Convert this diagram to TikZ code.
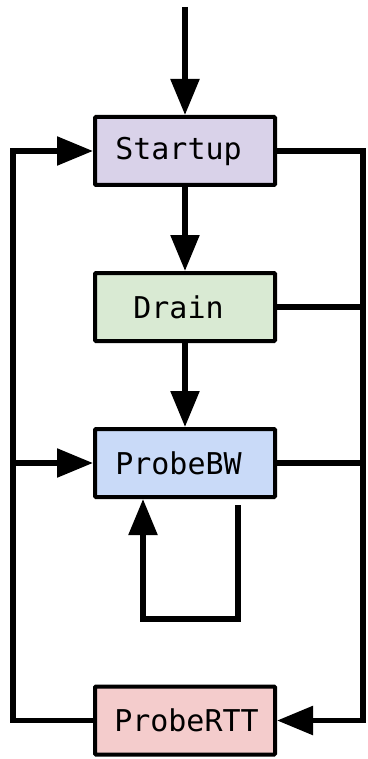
\documentclass[tikz,border=0pt]{standalone}
\usepackage{fontspec}
\setmonofont{DejaVu Sans Mono}
\usetikzlibrary{arrows.meta,calc}
\definecolor{Lavender}{HTML}{D9D2E9}
\definecolor{Mint}{HTML}{D9EAD3}
\definecolor{Sky}{HTML}{C9DAF8}
\definecolor{Blush}{HTML}{F4CCCC}
\tikzset{
  state/.style={draw=black,line width=4pt,rounded corners=1pt,minimum width=180pt,minimum height=68pt,inner sep=0pt,font=\ttfamily\fontsize{30}{36}\selectfont},
  flow/.style={-{Triangle[length=36pt,width=28pt]},line width=5.5pt},
  wire/.style={line width=5.5pt},
}
% nudge a label sideways inside its box
\newcommand{\lpad}[1]{#1\hspace*{13pt}}
\begin{document}
\begin{tikzpicture}[x=1pt,y=-1pt]
  \useasboundingbox (0,0) rectangle (367,759);
  \node[state,fill=Lavender] (startup) at (185,151) {\lpad{Startup}};
  \node[state,fill=Mint] (drain) at (185,307) {\lpad{Drain}};
  \node[state,fill=Sky] (probebw) at (185,463) {\lpad{ProbeBW}};
  \node[state,fill=Blush] (probertt) at (185,720.5) {\hspace*{3pt}ProbeRTT};

  \coordinate (entry) at (185,7);
  \coordinate (rrail) at (363,720.5);
  \coordinate (lrail) at (13,720.5);

  % main path down
  \draw[flow] (entry) -- (startup);
  \draw[flow] (startup) -- (drain);
  \draw[flow] (drain) -- (probebw);

  % right rail into ProbeRTT
  \draw[flow] (startup) -| (rrail) -- (probertt);
  \draw[wire] (drain) -- (drain -| rrail);
  \draw[wire] (probebw) -- (probebw -| rrail);

  % left rail back up
  \draw[flow] (probertt) -- (lrail) |- (startup);
  \draw[flow] (probebw -| lrail) -- (probebw);

  % ProbeBW self loop
  \draw[flow] ([xshift=53pt,yshift=-6pt]probebw.south) -- ++(0,114) -| ([xshift=-42pt]probebw.south);
\end{tikzpicture}
\end{document}
